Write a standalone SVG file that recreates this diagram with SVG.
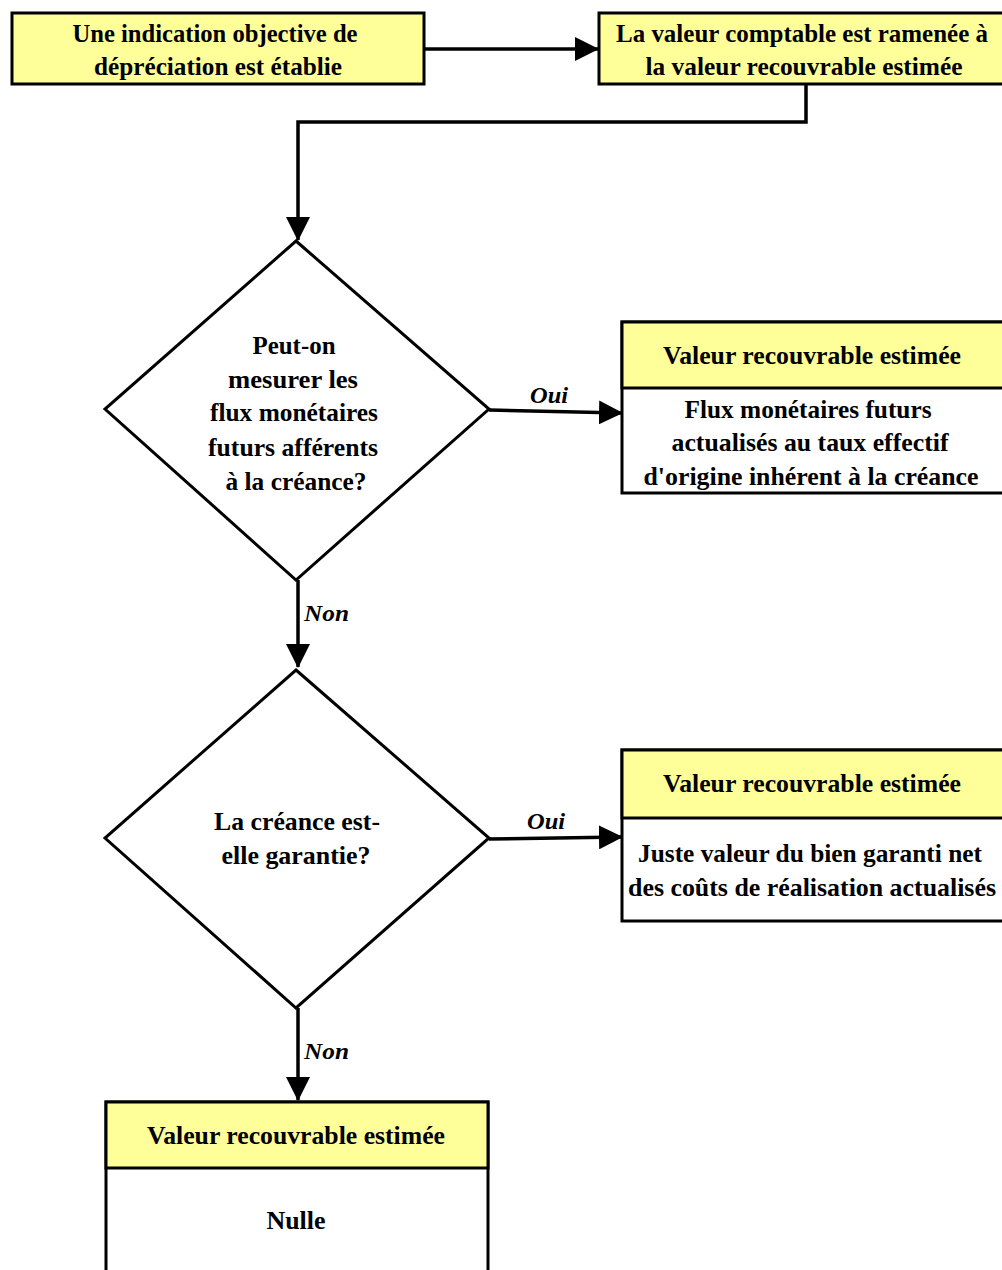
<svg xmlns="http://www.w3.org/2000/svg" width="1002" height="1270" viewBox="0 0 1002 1270">
<style>
.box{stroke:#000;stroke-width:3;}
.y{fill:#FFFF99;}
.w{fill:#FFFFFF;}
.dia{fill:#FFFFFF;stroke:#000;stroke-width:3;stroke-linejoin:miter;}
.t{font-family:"Liberation Serif","Times New Roman",serif;font-weight:bold;font-size:25px;fill:#000;text-anchor:middle;}
.lbl{font-family:"Liberation Serif","Times New Roman",serif;font-weight:bold;font-style:italic;font-size:24px;fill:#000;}
.c{fill:none;stroke:#000;stroke-width:3.5;}
</style>
<defs>
<marker id="ah" viewBox="0 0 24 24" refX="23" refY="12" markerWidth="24" markerHeight="24" markerUnits="userSpaceOnUse" orient="auto">
<path d="M0,0 L24,12 L0,24 z" fill="#000"/>
</marker>
</defs>
<rect width="1002" height="1270" fill="#FFFFFF"/>

<g id="connectors">
<line class="c" x1="424" y1="49" x2="598" y2="49" marker-end="url(#ah)"/>
<polyline class="c" points="806,84 806,122 298,122 298,240" marker-end="url(#ah)"/>
<line class="c" x1="298" y1="580" x2="298" y2="667" marker-end="url(#ah)"/>
<line class="c" x1="489" y1="410" x2="622" y2="413" marker-end="url(#ah)"/>
<line class="c" x1="298" y1="1008" x2="298" y2="1100" marker-end="url(#ah)"/>
<line class="c" x1="489" y1="839" x2="622" y2="837" marker-end="url(#ah)"/>
<text class="lbl" x="549" y="403" text-anchor="middle" textLength="38" lengthAdjust="spacingAndGlyphs">Oui</text>
<text class="lbl" x="546" y="829" text-anchor="middle" textLength="38" lengthAdjust="spacingAndGlyphs">Oui</text>
<text class="lbl" x="304" y="621" textLength="45" lengthAdjust="spacingAndGlyphs">Non</text>
<text class="lbl" x="304" y="1059" textLength="45" lengthAdjust="spacingAndGlyphs">Non</text>
</g>

<g id="start">
<rect class="box y" x="12" y="13" width="412" height="71"/>
<text class="t" x="215" y="42" textLength="285" lengthAdjust="spacingAndGlyphs">Une indication objective de</text>
<text class="t" x="218" y="75" textLength="248" lengthAdjust="spacingAndGlyphs">dépréciation est établie</text>
</g>

<g id="reduce">
<rect class="box y" x="599" y="13" width="420" height="71"/>
<text class="t" x="802" y="42" textLength="372" lengthAdjust="spacingAndGlyphs">La valeur comptable est ramenée à</text>
<text class="t" x="804" y="75" textLength="317" lengthAdjust="spacingAndGlyphs">la valeur recouvrable estimée</text>
</g>

<g id="q1">
<polygon class="dia" points="296,241 489,409 296,580 105,409"/>
<text class="t" x="294" y="354" textLength="83" lengthAdjust="spacingAndGlyphs">Peut-on</text>
<text class="t" x="293" y="388" textLength="130" lengthAdjust="spacingAndGlyphs">mesurer les</text>
<text class="t" x="294" y="421" textLength="168" lengthAdjust="spacingAndGlyphs">flux monétaires</text>
<text class="t" x="293" y="456" textLength="170" lengthAdjust="spacingAndGlyphs">futurs afférents</text>
<text class="t" x="296" y="490" textLength="141" lengthAdjust="spacingAndGlyphs">à la créance?</text>
</g>

<g id="r1">
<rect class="box w" x="622" y="322" width="400" height="171"/>
<rect class="box y" x="622" y="322" width="400" height="66"/>
<text class="t" x="812" y="364" textLength="298" lengthAdjust="spacingAndGlyphs">Valeur recouvrable estimée</text>
<text class="t" x="808" y="418" textLength="247" lengthAdjust="spacingAndGlyphs">Flux monétaires futurs</text>
<text class="t" x="810" y="451" textLength="277" lengthAdjust="spacingAndGlyphs">actualisés au taux effectif</text>
<text class="t" x="811" y="485" textLength="335" lengthAdjust="spacingAndGlyphs">d'origine inhérent à la créance</text>
</g>

<g id="q2">
<polygon class="dia" points="296,670 489,838 296,1008 105,838"/>
<text class="t" x="297" y="830" textLength="166" lengthAdjust="spacingAndGlyphs">La créance est-</text>
<text class="t" x="296" y="864" textLength="149" lengthAdjust="spacingAndGlyphs">elle garantie?</text>
</g>

<g id="r2">
<rect class="box w" x="622" y="750" width="400" height="171"/>
<rect class="box y" x="622" y="750" width="400" height="68"/>
<text class="t" x="812" y="792" textLength="298" lengthAdjust="spacingAndGlyphs">Valeur recouvrable estimée</text>
<text class="t" x="810" y="862" textLength="344" lengthAdjust="spacingAndGlyphs">Juste valeur du bien garanti net</text>
<text class="t" x="812" y="896" textLength="368" lengthAdjust="spacingAndGlyphs">des coûts de réalisation actualisés</text>
</g>

<g id="r3">
<rect class="box w" x="106" y="1102" width="382" height="200"/>
<rect class="box y" x="106" y="1102" width="382" height="66"/>
<text class="t" x="296" y="1144" textLength="298" lengthAdjust="spacingAndGlyphs">Valeur recouvrable estimée</text>
<text class="t" x="296" y="1229" textLength="59" lengthAdjust="spacingAndGlyphs">Nulle</text>
</g>
</svg>
